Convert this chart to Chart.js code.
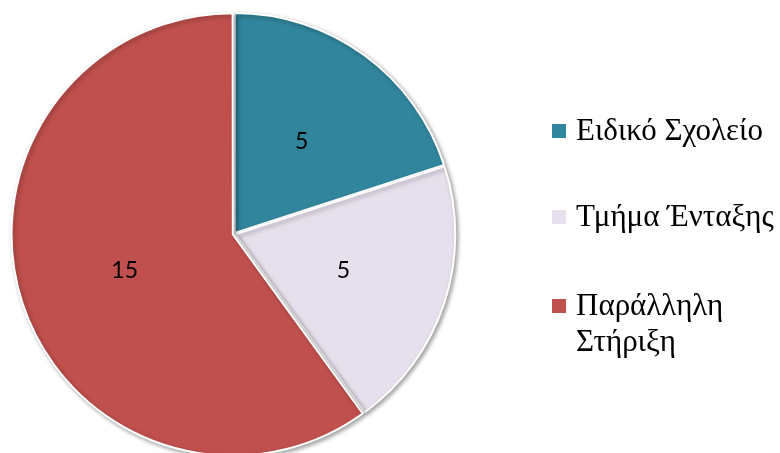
<!DOCTYPE html>
<html>
<head>
<meta charset="utf-8">
<script src="https://cdn.jsdelivr.net/npm/chart.js@4/dist/chart.umd.min.js"></script>
<style>
  html, body { margin: 0; padding: 0; background: #fff; }
  #wrap { position: relative; width: 780px; height: 453px; overflow: hidden; }
  #c { position: absolute; left: 0; top: 0; }
  .legend { position: absolute; left: 552px; top: 0; font-family: 'Liberation Serif', 'Times New Roman', serif; font-size: 31px; line-height: 36px; color: #000; }
  .legend .item { position: absolute; left: 0; white-space: nowrap; }
  .legend .sw { position: absolute; left: 0; top: 12px; width: 14px; height: 14px; }
  .legend .txt { position: absolute; left: 24px; top: 0; }
</style>
</head>
<body>
<div id="wrap">
  <canvas id="c" width="780" height="453"></canvas>
  <div class="legend" id="legend"></div>
</div>
<script>
// Categories and counts
const categories = ['Ειδικό Σχολείο', 'Τμήμα Ένταξης', 'Παράλληλη Στήριξη'];
const legendLines = [['Ειδικό Σχολείο'], ['Τμήμα Ένταξης'], ['Παράλληλη', 'Στήριξη']];
const counts = [5, 5, 15];
const sliceColors = ['#31859C', '#E6E0EC', '#C0504D'];

// Legend (top offset of each entry)
const legendTops = [112, 198, 287];
const legendEl = document.getElementById('legend');
legendLines.forEach((lines, i) => {
  const item = document.createElement('div');
  item.className = 'item';
  item.style.top = legendTops[i] + 'px';
  const sw = document.createElement('div');
  sw.className = 'sw';
  sw.style.background = sliceColors[i];
  const txt = document.createElement('div');
  txt.className = 'txt';
  txt.innerHTML = lines.join('<br>');
  item.appendChild(sw);
  item.appendChild(txt);
  legendEl.appendChild(item);
});

const SLICE_OFFSET = 5;
const RADIUS = 220;

// Soft drop shadow under the slices
const shadowPlugin = {
  id: 'sliceShadow',
  beforeDatasetsDraw(chart) {
    const ctx = chart.ctx;
    ctx.save();
    ctx.shadowColor = 'rgba(0,0,0,0.35)';
    ctx.shadowBlur = 4;
    ctx.shadowOffsetX = 2;
    ctx.shadowOffsetY = 2;
  },
  afterDatasetsDraw(chart) {
    chart.ctx.restore();
  }
};

// Value labels placed halfway out along each slice's bisector
const valueLabels = {
  id: 'valueLabels',
  afterDatasetsDraw(chart) {
    const ctx = chart.ctx;
    const meta = chart.getDatasetMeta(0);
    const values = chart.data.datasets[0].data;
    ctx.save();
    ctx.font = '23px Lato, "Open Sans", sans-serif';
    ctx.fillStyle = '#000';
    ctx.textAlign = 'center';
    ctx.textBaseline = 'middle';
    meta.data.forEach((arc, i) => {
      const p = arc.getProps(['x', 'y', 'startAngle', 'endAngle', 'outerRadius'], true);
      const mid = (p.startAngle + p.endAngle) / 2;
      const d = SLICE_OFFSET + p.outerRadius / 2;
      ctx.fillText(String(values[i]), p.x + Math.cos(mid) * d, p.y + Math.sin(mid) * d + 1);
    });
    ctx.restore();
  }
};

new Chart(document.getElementById('c'), {
  type: 'pie',
  data: {
    labels: categories,
    datasets: [{
      data: counts,
      backgroundColor: sliceColors,
      borderColor: '#ffffff',
      borderWidth: 2,
      offset: SLICE_OFFSET,
      hoverOffset: SLICE_OFFSET,
      radius: RADIUS,
      clip: false
    }]
  },
  options: {
    responsive: false,
    animation: false,
    events: [],
    layout: { padding: { left: 0, right: 312, top: 15, bottom: 0 } },
    plugins: {
      legend: { display: false },
      tooltip: { enabled: false }
    }
  },
  plugins: [shadowPlugin, valueLabels]
});
</script>
</body>
</html>
